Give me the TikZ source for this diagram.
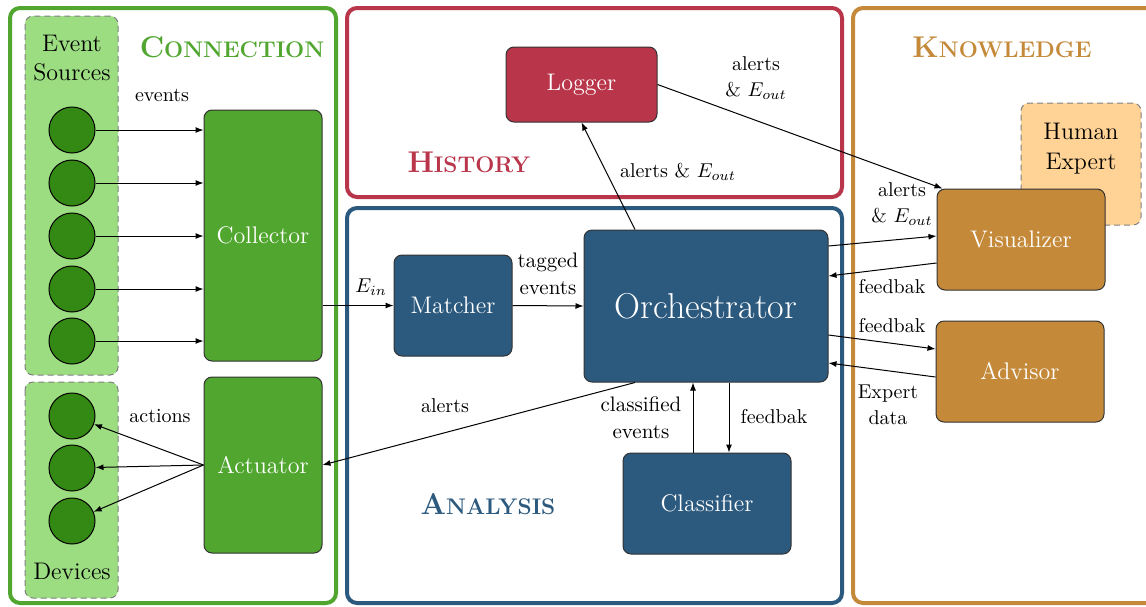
\documentclass[tikz,border=0pt]{standalone}
\usepackage{tikz}
\usetikzlibrary{positioning,calc,arrows.meta}
\usepackage{xcolor}

\definecolor{cgreen}{RGB}{80,166,47}
\definecolor{cdark}{RGB}{52,137,20}
\definecolor{clight}{RGB}{156,221,130}
\definecolor{cred}{RGB}{185,53,74}
\definecolor{cblue}{RGB}{44,89,126}
\definecolor{corange}{RGB}{196,138,58}
\definecolor{cpale}{RGB}{255,211,150}

% fake small caps: big first letter, smaller rest
\newcommand{\fakesc}[2]{{\fontsize{15}{15}\selectfont #1}{\fontsize{11.3}{15}\selectfont #2}}

\begin{document}
\begin{tikzpicture}[x=0.5pt,y=-0.5pt,
    panel/.style={line width=2pt,rounded corners=5pt,fill=white},
    group/.style={draw=gray,dash pattern=on 3pt off 2pt,line width=0.5pt,fill=clight,rounded corners=4pt},
    box/.style={draw=black!80,line width=0.5pt,rounded corners=4pt,text=white,inner sep=0pt,
        font=\fontsize{12}{15}\selectfont},
    dot/.style={circle,draw=black,line width=0.5pt,fill=cdark,minimum size=23pt,inner sep=0pt},
    lbl/.style={font=\fontsize{10}{13}\selectfont,align=center,inner sep=0pt},
    title/.style={font=\bfseries,inner sep=0pt},
    arr/.style={-{Latex[length=4pt,width=3pt]},line width=0.5pt}]
\path[use as bounding box,fill=white] (0,0) rectangle (1146,606);

% panels
\draw[panel,draw=cgreen] (10,8) rectangle (336,603);
\draw[panel,draw=cred] (347,8) rectangle (842,197);
\draw[panel,draw=cblue] (347,208) rectangle (842,603);
\draw[panel,draw=corange] (853,8) rectangle (1170,603);

\node[title,text=cgreen] (tconn) at (232,47) {\fakesc{C}{ONNECTION}};
\node[title,text=cred] (thist) at (469,162) {\fakesc{H}{ISTORY}};
\node[title,text=cblue] (tana) at (488,504) {\fakesc{A}{NALYSIS}};
\node[title,text=corange] (tknow) at (1002,47) {\fakesc{K}{NOWLEDGE}};

% connection
\draw[group] (25,16) rectangle (118,375);
\draw[group] (25,382) rectangle (118,598);
\node[lbl,font=\fontsize{12}{14.5}\selectfont] (srclbl) at (72,58) {Event\\Sources};
\node[lbl,font=\fontsize{12}{14.5}\selectfont] (devlbl) at (72,571) {Devices};
\foreach \i/\y in {1/130,2/183,3/236,4/289,5/341}
    \node[dot] (src\i) at (72,\y) {};
\foreach \i/\y in {1/416,2/468,3/521}
    \node[dot] (dev\i) at (72,\y) {};

\node[box,fill=cgreen,minimum width=59pt,minimum height=125.5pt] (collector) at (263,235.5) {Collector};
\node[box,fill=cgreen,minimum width=59pt,minimum height=88pt] (actuator) at (263,465) {Actuator};

\foreach \i in {1,...,5}
    \draw[arr] (src\i) -- (src\i -| collector.west);
\foreach \i in {1,2,3}
    \draw[arr] (actuator.west) -- (dev\i);
\node[lbl] (evlbl) at (162,95) {events};
\node[lbl] (actlbl) at (160,416) {actions};

% history
\node[box,fill=cred,minimum width=75.5pt,minimum height=37.5pt] (logger) at (581.5,84.5) {Logger};

% analysis
\node[box,fill=cblue,minimum width=59pt,minimum height=50.5pt] (matcher) at (453,305.5) {Matcher};
\node[box,fill=cblue,minimum width=122pt,minimum height=76pt,font=\fontsize{18}{22}\selectfont] (orch) at (706,306) {Orchestrator};
\node[box,fill=cblue,minimum width=84pt,minimum height=50.5pt] (classifier) at (707,503.5) {Classifier};

% knowledge
\node[draw=gray,dash pattern=on 3pt off 2pt,line width=0.5pt,fill=cpale,rounded corners=4pt,
    minimum width=60pt,minimum height=61pt] (human) at (1081,164) {};
\node[lbl,font=\fontsize{12}{15}\selectfont] (humanlbl) at (1081,149) {Human\\Expert};
\node[box,fill=corange,minimum width=84pt,minimum height=50.5pt] (vis) at (1021,239.5) {Visualizer};
\node[box,fill=corange,minimum width=84pt,minimum height=50.5pt] (advisor) at (1020,371.5) {Advisor};

% connectors
\draw[arr] (collector.east |- matcher.west) -- (matcher.west);
\node[lbl] (einlbl) at (371,287) {$E_{in}$};
\draw[arr] (matcher.east) -- (orch.west);
\node[lbl,font=\fontsize{10.5}{13.5}\selectfont] (taglbl) at (548,274) {tagged\\events};

\draw[arr] ([xshift=-35.5pt]orch.north) -- (logger.south);
\node[lbl] (lglbl) at (678,172) {alerts \& $E_{out}$};
\draw[arr] (logger.east) -- ([xshift=3pt]vis.north west);
\node[lbl] (lvlbl) at (756,78) {alerts\\\& $E_{out}$};

\draw[arr] ([yshift=30pt]orch.east) -- ([yshift=1.75pt]vis.west);
\node[lbl] (ovlbl) at (902,204) {alerts\\\& $E_{out}$};
\draw[arr] ([yshift=-11.75pt]vis.west) -- ([yshift=15pt]orch.east);
\node[lbl] (fb1lbl) at (892,287) {feedbak};
\draw[arr] ([yshift=-14.5pt]orch.east) -- ([yshift=11.25pt]advisor.west);
\node[lbl] (fb2lbl) at (892,326) {feedbak};
\draw[arr] ([yshift=-2.75pt]advisor.west) -- ([yshift=-28.5pt]orch.east);
\node[lbl] (exlbl) at (888,405) {Expert\\data};

\draw[arr] ([xshift=-35.5pt]orch.south) -- (actuator.east);
\node[lbl] (allbl) at (445,406) {alerts};

\draw[arr] ([xshift=-7pt]classifier.north) -- ([xshift=-7pt]classifier.north |- orch.south);
\node[lbl,font=\fontsize{10.5}{13.5}\selectfont] (cllbl) at (641,418) {classified\\events};
\draw[arr] ([xshift=11pt]classifier.north |- orch.south) -- ([xshift=11pt]classifier.north);
\node[lbl] (fb3lbl) at (774,417) {feedbak};
\end{tikzpicture}
\end{document}
